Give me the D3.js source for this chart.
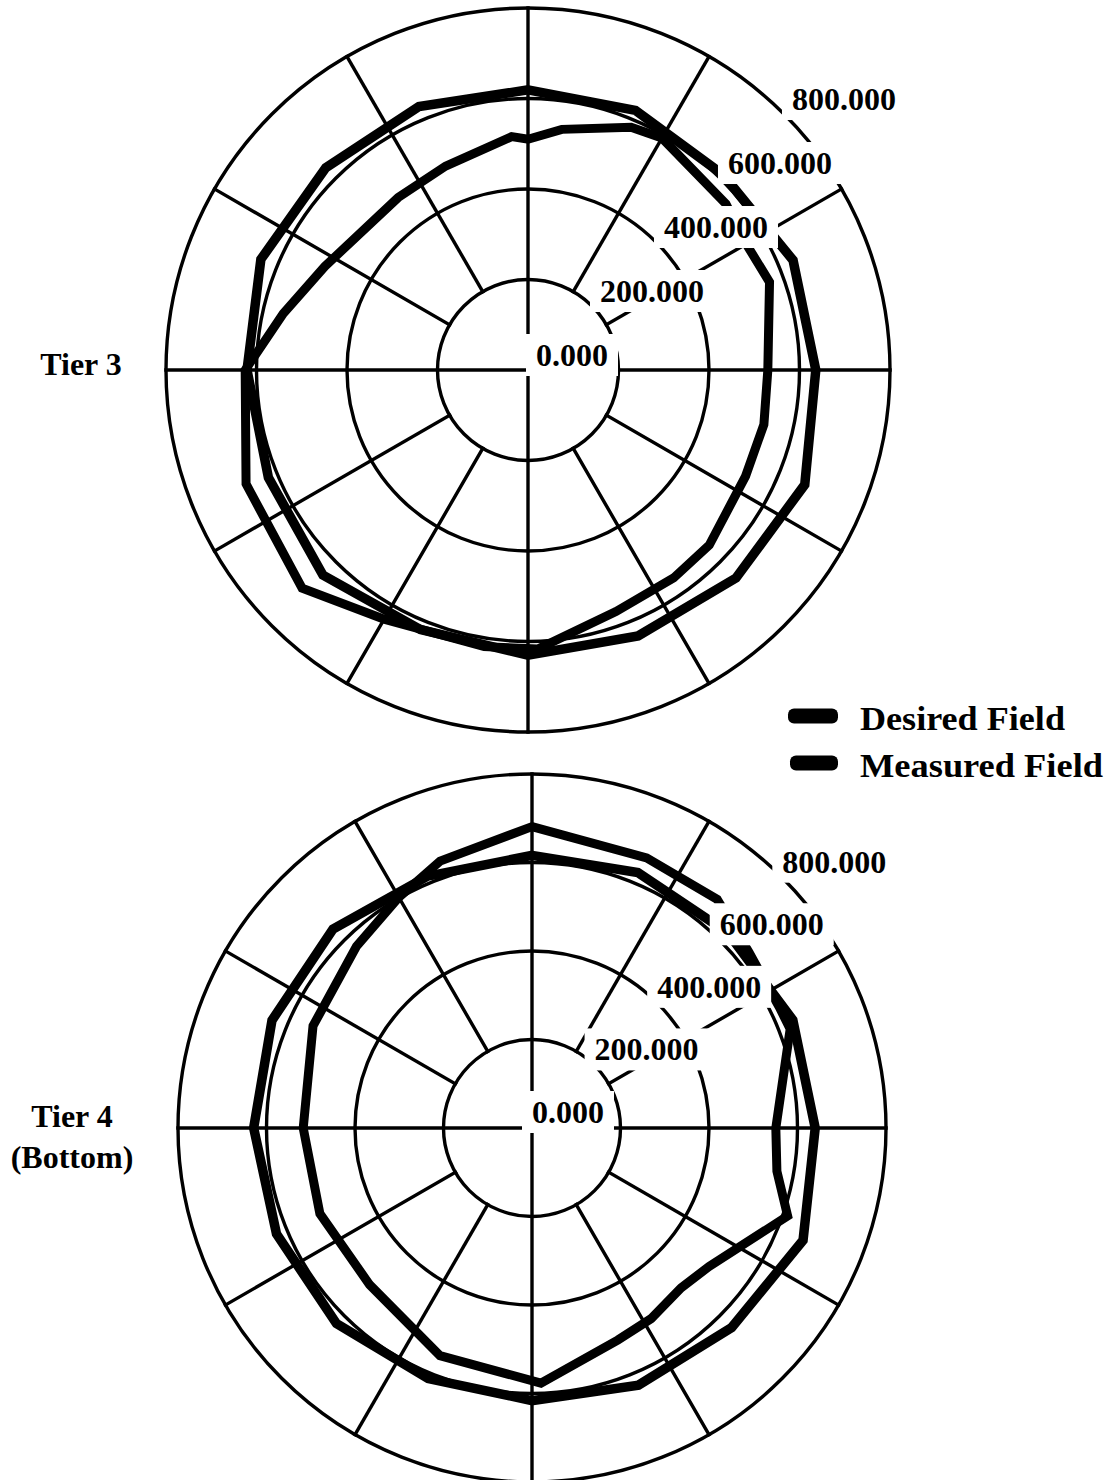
<!DOCTYPE html>
<html><head><meta charset="utf-8">
<script src="https://cdn.jsdelivr.net/npm/d3@7"></script>
<style>body{margin:0;background:#fff} svg{display:block}</style>
</head><body>
<svg id="c" width="1107" height="1480"></svg>
<script>
// ---------- data ----------
const tickValues = [0, 200, 400, 600, 800];
const tickLabels = ["0.000", "200.000", "400.000", "600.000", "800.000"];
const spokeAngles = [0, 30, 60, 90, 120, 150, 180, 210, 240, 270, 300, 330];
const seriesNames = ["Desired Field", "Measured Field"];

const tier3DesiredAngles = [0, 22.5, 45, 67.5, 90, 112.5, 135, 157.5, 180, 202.5, 225, 247.5, 270, 292.5, 315, 337.5];
const tier3Desired       = [619, 621, 610, 634, 636, 662, 650, 636, 630, 621, 641, 621, 621, 639, 632, 630];
const tier3MeasuredAngles = [0, 8, 23, 30, 50, 60, 70, 90, 103, 116, 134, 145, 160, 178, 189, 210, 226, 248, 270, 283, 297, 323, 338, 356];
const tier3Measured       = [510, 537, 583, 592, 571, 557, 568, 530, 535, 535, 557, 561, 568, 617, 619, 636, 694, 672, 625, 555, 504, 477, 486, 517];

const tier4DesiredAngles = [0, 22.5, 45, 67.5, 90, 112.5, 135, 157.5, 180, 202.5, 225, 247.5, 270, 292.5, 315, 337.5];
const tier4Desired       = [616, 625, 625, 638, 640, 663, 638, 629, 616, 613, 625, 625, 629, 636, 636, 616];
const tier4MeasuredAngles = [0, 23, 39, 51, 64, 69, 90, 100, 109, 128, 137, 148, 158, 178, 202, 226, 248, 270, 295, 316, 330, 341];
const tier4Measured       = [681, 663, 665, 631, 622, 625, 551, 562, 611, 508, 494, 508, 517, 577, 555, 510, 517, 517, 546, 571, 602, 638];

// ---------- drawing ----------
const svg = d3.select("#c");
const FONT = "'Liberation Serif', 'Times New Roman', serif";
const rad = d => d * Math.PI / 180;

function drawPolar(cfg) {
  const g = svg.append("g");
  const r = d3.scaleLinear().domain([0, 800]).range([0, cfg.R]);
  const px = (a, v) => cfg.cx + r(v) * Math.sin(rad(a));
  const py = (a, v) => cfg.cy - r(v) * Math.cos(rad(a));

  // rings
  g.selectAll("circle.ring").data(tickValues.filter(v => v > 0)).join("circle")
    .attr("cx", cfg.cx).attr("cy", cfg.cy).attr("r", d => r(d))
    .attr("fill", "none").attr("stroke", "#000").attr("stroke-width", 3.4);

  // spokes
  g.selectAll("line.spoke").data(spokeAngles).join("line")
    .attr("x1", d => px(d, d % 90 === 0 ? 0 : tickValues[1]))
    .attr("y1", d => py(d, d % 90 === 0 ? 0 : tickValues[1]))
    .attr("x2", d => px(d, 800)).attr("y2", d => py(d, 800))
    .attr("stroke", "#000").attr("stroke-width", 3.4).attr("stroke-linecap", "square");

  // series
  const line = d3.lineRadial().angle(d => rad(d[0])).radius(d => r(d[1])).curve(d3.curveLinearClosed);
  const series = [
    cfg.desiredAngles.map((a, i) => [a, cfg.desired[i]]),
    cfg.measuredAngles.map((a, i) => [a, cfg.measured[i]])
  ];
  g.selectAll("path.series").data(series).join("path")
    .attr("transform", `translate(${cfg.cx},${cfg.cy})`)
    .attr("d", line)
    .attr("fill", "none").attr("stroke", "#000")
    .attr("stroke-width", (d, i) => i === 0 ? 9.5 : 9)
    .attr("stroke-linejoin", "miter").attr("stroke-miterlimit", 3);

  // tick labels with white boxes
  const k = Math.SQRT1_2;
  tickValues.forEach((v, i) => {
    const t = g.append("text")
      .attr("x", cfg.cx + cfg.ldx + k * r(v))
      .attr("y", cfg.cy + cfg.ldy - k * r(v))
      .attr("font-family", FONT).attr("font-weight", "bold").attr("font-size", 32)
      .attr("fill", "#000").text(tickLabels[i]);
    const b = t.node().getBBox();
    g.insert("rect", () => t.node())
      .attr("x", b.x - 10).attr("y", b.y - 3)
      .attr("width", b.width + 20).attr("height", b.height + 6)
      .attr("fill", "#fff");
  });

  // tier label
  const tt = svg.append("text").attr("text-anchor", "middle")
    .attr("font-family", FONT).attr("font-weight", "bold").attr("font-size", 32).attr("fill", "#000");
  cfg.title.forEach((s, i) => {
    tt.append("tspan").attr("x", cfg.tx).attr("y", cfg.ty + i * 41).text(s);
  });
}

drawPolar({
  cx: 528, cy: 370, R: 362, ldx: 8, ldy: -4,
  desiredAngles: tier3DesiredAngles, desired: tier3Desired,
  measuredAngles: tier3MeasuredAngles, measured: tier3Measured,
  title: ["Tier 3"], tx: 81, ty: 375
});
drawPolar({
  cx: 532, cy: 1128, R: 354, ldx: 0, ldy: -5,
  desiredAngles: tier4DesiredAngles, desired: tier4Desired,
  measuredAngles: tier4MeasuredAngles, measured: tier4Measured,
  title: ["Tier 4", "(Bottom)"], tx: 72, ty: 1127
});

// legend
const lg = svg.append("g");
seriesNames.forEach((name, i) => {
  const y = 716 + i * 47;
  lg.append("rect").attr("x", 788 + i * 2).attr("y", y - 7.5).attr("width", 50 - i * 2).attr("height", 15)
    .attr("rx", 6).attr("fill", "#000");
  lg.append("text").attr("x", 860).attr("y", y + 14)
    .attr("font-family", FONT).attr("font-weight", "bold").attr("font-size", 33)
    .attr("textLength", i === 0 ? 205 : 243).attr("lengthAdjust", "spacingAndGlyphs")
    .attr("fill", "#000").text(name);
});
</script>
</body></html>
